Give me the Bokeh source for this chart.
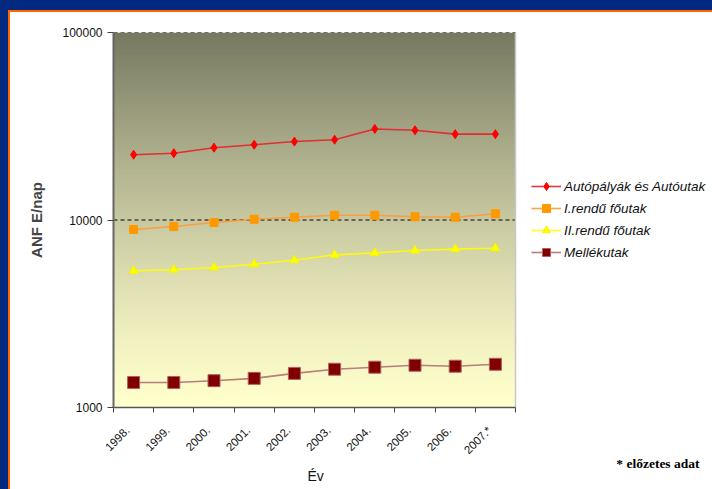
import numpy as np
from bokeh.plotting import figure
from bokeh.models import Range1d, FixedTicker, Legend, LegendItem, Title
from bokeh.embed import file_html
from bokeh.resources import INLINE

# ---- data ----
years = ["1998.", "1999.", "2000.", "2001.", "2002.", "2003.", "2004.", "2005.", "2006.", "2007.*"]
autopalyak = [22300, 22700, 24300, 25200, 26200, 26800, 30600, 30100, 28700, 28700]
elsorendu = [8900, 9230, 9700, 10100, 10350, 10600, 10600, 10400, 10350, 10800]
masodrendu = [5360, 5430, 5580, 5810, 6100, 6520, 6680, 6880, 6990, 7070]
mellekutak = [1360, 1360, 1390, 1430, 1520, 1600, 1640, 1680, 1660, 1700]
series_names = ["Autópályák és Autóutak", "I.rendű főutak", "II.rendű főutak", "Mellékutak"]
y_ticks = [1000, 10000, 100000]
y_tick_labels = ["1000", "10000", "100000"]
x_title = "Év"
y_title = "ANF E/nap"
note = "* előzetes adat"

FONT = "Liberation Sans"
W, H = 712, 489
PLOT_L, PLOT_R, PLOT_T, PLOT_B = 113, 515, 32, 407   # plot-area box in pixels
ncat = len(years)
x = [i + 0.5 for i in range(ncat)]
label_pos = [xi - 0.15 for xi in x]          # labels sit slightly left of the category centre
y_start, y_end = y_ticks[0], y_ticks[-1]
# the frame runs to the right edge so that the legend can sit inside it
x_end = ncat * (W - PLOT_L) / (PLOT_R - PLOT_L)

p = figure(width=W, height=H, title=None,
           x_range=Range1d(0, x_end), y_range=Range1d(y_start, y_end),
           y_axis_type="log", output_backend="svg", toolbar_location=None,
           min_border_left=PLOT_L, min_border_right=0, min_border_top=PLOT_T,
           min_border_bottom=H - PLOT_B)
p.styles = {"background-color": "white",
            "box-shadow": "inset 8px 10px 0 0 #00297F, inset 10px 12px 0 0 #FF6600"}
p.border_fill_color = None
p.background_fill_color = "white"
p.outline_line_color = None

# gradient background of the plot area
n = 300
t = np.linspace(0.0, 1.0, n) ** 1.3
top = np.array([0x76, 0x78, 0x60], dtype=float)
bot = np.array([0xFF, 0xFF, 0xCC], dtype=float)
img = np.empty((n, 1), dtype=np.uint32)
view = img.view(dtype=np.uint8).reshape((n, 1, 4))
for k in range(3):
    view[:, 0, k] = np.round(bot[k] + (top[k] - bot[k]) * t).astype(np.uint8)
view[:, 0, 3] = 255
p.image_rgba(image=[img], x=0, y=y_start, dw=ncat, dh=y_end - y_start, level="image")

# grid lines (dashed) and right border of the plot area
p.xgrid.visible = False
p.ygrid.visible = False
p.segment(x0=[0] * (len(y_ticks) - 1), x1=[ncat] * (len(y_ticks) - 1),
          y0=y_ticks[1:], y1=y_ticks[1:], line_color="black", line_dash="4 3",
          line_width=1, level="underlay")
p.segment(x0=[ncat], x1=[ncat], y0=[y_start], y1=[y_end], line_color="#C8C8C8",
          line_width=1.5, level="underlay")

# y axis
p.yaxis.ticker = FixedTicker(ticks=y_ticks, minor_ticks=[])
p.yaxis.major_label_overrides = {tk: lb for tk, lb in zip(y_ticks, y_tick_labels)}
p.yaxis.axis_line_color = "#666666"
p.yaxis.axis_line_width = 2
p.yaxis.major_tick_line_color = "#444444"
p.yaxis.major_tick_out = 6
p.yaxis.major_tick_in = 0
p.yaxis.major_label_text_font = FONT
p.yaxis.major_label_text_font_size = "12px"
p.yaxis.major_label_text_color = "#111111"
p.yaxis.major_label_standoff = 5
p.yaxis.axis_label = y_title
p.yaxis.axis_label_text_font = FONT
p.yaxis.axis_label_text_font_style = "bold"
p.yaxis.axis_label_text_font_size = "15px"
p.yaxis.axis_label_standoff = 14

# x axis
p.xaxis.bounds = (0, ncat)
p.xaxis.ticker = FixedTicker(ticks=label_pos, minor_ticks=list(range(ncat + 1)))
p.xaxis.major_label_overrides = {xi: lb for xi, lb in zip(label_pos, years)}
p.xaxis.major_label_orientation = np.pi / 4
p.xaxis.major_tick_line_color = None
p.xaxis.major_tick_out = 5
p.xaxis.major_tick_in = 0
p.xaxis.minor_tick_line_color = "#444444"
p.xaxis.minor_tick_out = 5
p.xaxis.minor_tick_in = 0
p.xaxis.axis_line_color = "#555555"
p.xaxis.axis_line_width = 1.5
p.xaxis.major_label_text_font = FONT
p.xaxis.major_label_text_font_size = "11.5px"
p.xaxis.major_label_text_color = "#111111"
p.xaxis.major_label_standoff = 16

# series
specs = [
    (autopalyak, "#E8202A", "diamond", 9, "#FF0000", "#FF0000"),
    (elsorendu, "#FF9933", "square", 8, "#FF9900", "#FF9900"),
    (masodrendu, "#FFFF00", "triangle", 9, "#FFFF00", "#F5F500"),
    (mellekutak, "#B07070", "square", 12, "#800000", "#B06060"),
]
items = []
for (vals, lc, mk, sz, fc, oc), name in zip(specs, series_names):
    lr = p.line(x, vals, line_color=lc, line_width=1.6, line_alpha=0.9)
    sr = p.scatter(x, vals, marker=mk, size=sz, fill_color=fc, line_color=oc, line_width=1)
    items.append(LegendItem(label=name, renderers=[lr, sr]))

legend = Legend(items=items, location=(531 - PLOT_L, PLOT_B - 262), orientation="vertical")
legend.background_fill_alpha = 0
legend.border_line_color = None
legend.padding = 0
legend.margin = 0
legend.spacing = 2
legend.glyph_height = 20
legend.label_height = 20
legend.glyph_width = 30
legend.label_standoff = 3
legend.label_text_font = FONT
legend.label_text_font_style = "italic"
legend.label_text_font_size = "13.5px"
legend.label_text_color = "#111111"
p.add_layout(legend, "center")

# below the axis: the footnote (zero-height panel), then the x title
note_t = Title(text=note, align="right", offset=W - 699, vertical_align="top", standoff=-16,
               text_font="Liberation Serif", text_font_style="bold",
               text_font_size="13.5px", text_color="black")
p.add_layout(note_t, "below")
x_title_t = Title(text=x_title, align="left", offset=307 - PLOT_L, vertical_align="bottom",
                  standoff=3, text_font=FONT, text_font_style="normal",
                  text_font_size="14px", text_color="#111111")
p.add_layout(x_title_t, "below")

open("out.html", "w").write(file_html(p, INLINE))
